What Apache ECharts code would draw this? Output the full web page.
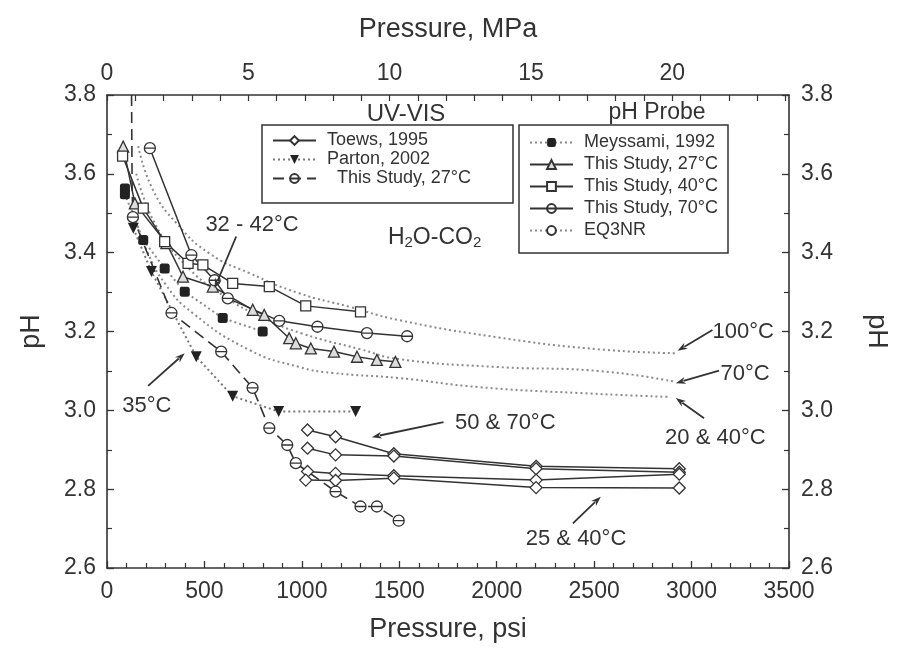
<!DOCTYPE html>
<html><head><meta charset="utf-8">
<script src="https://cdn.jsdelivr.net/npm/echarts@6/dist/echarts.min.js"></script>
<style>html,body{margin:0;padding:0;background:#fff}#c{width:898px;height:666px}</style>
</head><body><div id="c"></div>
<script>
// ---------- data (psi, pH) ----------
const toews1 = [[1029,2.950],[1173,2.933],[1472,2.890],[2202,2.858],[2937,2.852]];
const toews2 = [[1029,2.904],[1173,2.887],[1472,2.884],[2202,2.852],[2937,2.843]];
const toews3 = [[1029,2.845],[1173,2.840],[1472,2.834],[2202,2.823],[2937,2.838]];
const toews4 = [[1020,2.823],[1173,2.822],[1472,2.828],[2202,2.804],[2937,2.803]];
const parton = [[135,3.462],[228,3.352],[458,3.136],[645,3.036],[881,2.997],[1276,2.997]];
const uv27 = [[126,3.80],[129,3.56],[133,3.49],[331,3.247],[586,3.149],[747,3.057],[833,2.955],[925,2.912],[969,2.866],[1173,2.794],[1301,2.756],[1385,2.756],[1497,2.720]];
const meyssami = [[92,3.563],[92,3.548],[186,3.432],[296,3.360],[399,3.301],[594,3.234],[799,3.200]];
const probe27 = [[83,3.669],[143,3.525],[305,3.424],[390,3.339],[543,3.314],[748,3.255],[807,3.242],[935,3.183],[969,3.170],[1046,3.157],[1165,3.149],[1283,3.136],[1385,3.128],[1480,3.123]];
const probe40 = [[80,3.645],[186,3.513],[296,3.428],[416,3.373],[492,3.369],[645,3.322],[833,3.314],[1020,3.265],[1301,3.250]];
const probe70 = [[220,3.665],[433,3.394],[552,3.330],[620,3.284],[884,3.227],[1080,3.212],[1334,3.196],[1540,3.188]];
const eq100 = [[160,3.67],[235,3.56],[356,3.475],[526,3.398],[731,3.348],[986,3.297],[1242,3.263],[1497,3.229],[2008,3.185],[2519,3.155],[2919,3.145]];
const eq70 = [[150,3.60],[250,3.47],[400,3.37],[600,3.29],[800,3.235],[1000,3.195],[1300,3.155],[1497,3.130],[2000,3.110],[2519,3.100],[2919,3.072]];
const eq20 = [[120,3.52],[200,3.41],[300,3.32],[439,3.247],[731,3.153],[986,3.110],[1155,3.095],[1497,3.082],[1906,3.059],[2417,3.044],[2892,3.034]];

// axes
const psiRange = [0, 3500];
const phRange = [2.6, 3.8];
const psiPerMPa = 145.0377;

// annotations: [text, labelX, labelY, arrowFrom, arrowTo] in data coords
const notes = [
  ['32 - 42°C', 744, 3.470, [663,3.441], [552,3.310]],
  ['35°C', 204, 3.011, [211,3.062], [399,3.145]],
  ['50 & 70°C', 2044, 2.968, [1727,2.970], [1359,2.932]],
  ['25 & 40°C', 2407, 2.674, [2391,2.713], [2534,2.781]],
  ['20 & 40°C', 3122, 2.930, [3064,2.980], [2919,3.031]],
  ['70°C', 3275, 3.092, [3141,3.101], [2919,3.069]],
  ['100°C', 3265, 3.199, [3107,3.204], [2928,3.151]]
];
const subNote = {x:1681, y:3.437};

// ---------- build ----------
const FONT = "'Liberation Sans', Arial, Helvetica, sans-serif";
const INK = '#333';
const THETA = 'path://M0,10A10,10,0,1,1,20,10A10,10,0,1,1,0,10ZM0,10L20,10';
const open = {color:'#fff', borderColor:INK, borderWidth:1.3};

function line(name, data, o) {
  return Object.assign({
    type:'line', name, data, xAxisIndex:0, yAxisIndex:0,
    lineStyle:{color:INK, width:1.5, type:'solid'},
    itemStyle:open, symbolSize:10, z:3, animation:false, silent:true
  }, o);
}
const eqStyle = {color:'#8a8a8a', width:2, type:[2,3]};
const series = [
  line('EQ3NR', eq100, {symbol:'none', smooth:true, lineStyle:eqStyle, z:1}),
  line('EQ3NR', eq70, {symbol:'none', smooth:true, lineStyle:eqStyle, z:1}),
  line('EQ3NR', eq20, {symbol:'none', smooth:true, lineStyle:eqStyle, z:1}),
  line('Toews, 1995', toews1, {symbol:'diamond', symbolSize:12}),
  line('Toews, 1995', toews2, {symbol:'diamond', symbolSize:12}),
  line('Toews, 1995', toews3, {symbol:'diamond', symbolSize:12}),
  line('Toews, 1995', toews4, {symbol:'diamond', symbolSize:12}),
  line('Parton, 2002', parton, {symbol:'triangle', symbolRotate:180, symbolSize:11,
      itemStyle:{color:'#222'}, lineStyle:{color:'#777', width:2, type:[2,3]}}),
  line('This Study, 27°C ', uv27.map((p,i)=> i<2 ? {value:p, symbol:'none'} : p),
      {symbol:THETA, symbolSize:11, lineStyle:{color:INK, width:1.6, type:[11,6]}}),
  line('Meyssami, 1992', meyssami, {symbol:'roundRect', symbolSize:10,
      itemStyle:{color:'#222'}, lineStyle:{color:'#888', width:2, type:[2,3]}}),
  line('This Study, 27°C', probe27, {symbol:'triangle', symbolSize:11, itemStyle:{color:'#ddd', borderColor:INK, borderWidth:1.3}}),
  line('This Study, 40°C', probe40, {symbol:'rect', symbolSize:10}),
  line('This Study, 70°C', probe70, {symbol:THETA, symbolSize:11})
];

const axisText = {fontFamily:FONT, fontSize:23, color:INK};
const axLine = {show:true, onZero:false, lineStyle:{color:INK, width:1.6}};
const option = {
  backgroundColor:'#fff',
  animation:false,
  textStyle:{fontFamily:FONT},
  grid:{left:107, right:106, top:95, bottom:98, containLabel:false},
  xAxis:[
    {type:'value', position:'bottom', min:psiRange[0], max:psiRange[1], interval:500,
     axisLine:axLine, splitLine:{show:false},
     axisTick:{inside:true, length:7, lineStyle:{color:INK, width:1.3}},
     minorTick:{show:true, splitNumber:5, length:5, lineStyle:{color:INK, width:1.2}},
     axisLabel:Object.assign({margin:12, formatter:v=>String(Math.round(v))}, axisText),
     name:'Pressure, psi', nameLocation:'middle', nameGap:48,
     nameTextStyle:{fontFamily:FONT, fontSize:27, color:INK}},
    {type:'value', position:'top', min:psiRange[0]/psiPerMPa, max:psiRange[1]/psiPerMPa, interval:1,
     axisLine:axLine, splitLine:{show:false},
     axisTick:{inside:true, length:6, lineStyle:{color:INK, width:1.2}},
     axisLabel:Object.assign({margin:10, showMaxLabel:false,
        formatter:v=> (Math.abs(v-Math.round(v))<1e-6 && Math.round(v)%5===0) ? String(Math.round(v)) : ''}, axisText),
     name:'Pressure, MPa', nameLocation:'middle', nameGap:52,
     nameTextStyle:{fontFamily:FONT, fontSize:27, color:INK}}
  ],
  yAxis:[
    {type:'value', position:'left', min:phRange[0], max:phRange[1], interval:0.2,
     axisLine:axLine, splitLine:{show:false},
     axisTick:{inside:true, length:7, lineStyle:{color:INK, width:1.3}},
     minorTick:{show:true, splitNumber:2, length:5, lineStyle:{color:INK, width:1.2}},
     axisLabel:Object.assign({margin:11, formatter:v=>v.toFixed(1)}, axisText),
     name:'pH', nameLocation:'middle', nameRotate:90, nameGap:62,
     nameTextStyle:{fontFamily:FONT, fontSize:27, color:INK}},
    {type:'value', position:'right', min:phRange[0], max:phRange[1], interval:0.2,
     axisLine:axLine, splitLine:{show:false},
     axisTick:{inside:true, length:7, lineStyle:{color:INK, width:1.3}},
     minorTick:{show:true, splitNumber:2, length:5, lineStyle:{color:INK, width:1.2}},
     axisLabel:Object.assign({margin:12, formatter:v=>v.toFixed(1)}, axisText),
     name:'pH', nameLocation:'middle', nameRotate:-90, nameGap:74,
     nameTextStyle:{fontFamily:FONT, fontSize:27, color:INK}}
  ],
  legend:[
    {data:['Toews, 1995','Parton, 2002','This Study, 27°C '], orient:'vertical',
     left:262, top:125, padding:[6,10,15,10], itemGap:0, itemWidth:43, itemHeight:11,
     borderWidth:0, selectedMode:false,
     formatter:n=> n.indexOf('This')===0 ? '  '+n : n,
     textStyle:{fontFamily:FONT, fontSize:18, color:INK, lineHeight:19, padding:[0,0,0,6]}},
    {data:['Meyssami, 1992','This Study, 27°C','This Study, 40°C','This Study, 70°C','EQ3NR'], orient:'vertical',
     left:519, top:125, padding:[8,10,13,10], itemGap:3, itemWidth:43, itemHeight:11,
     borderWidth:0, selectedMode:false,
     textStyle:{fontFamily:FONT, fontSize:18, color:INK, lineHeight:19, padding:[0,0,0,6]}}
  ],
  series
};

const chart = echarts.init(document.getElementById('c'), null, {renderer:'canvas'});
chart.setOption(option);

// annotations positioned in data coordinates
const P = v => chart.convertToPixel({xAxisIndex:0, yAxisIndex:0}, v);
const g = [];
// legend frames
g.push({type:'rect', silent:true, z:4, shape:{x:262, y:125, width:251, height:78}, style:{fill:null, stroke:INK, lineWidth:1.5}});
g.push({type:'rect', silent:true, z:4, shape:{x:519, y:125, width:209, height:128}, style:{fill:null, stroke:INK, lineWidth:1.5}});
function txt(t, p, size) {
  g.push({type:'text', x:p[0], y:p[1], silent:true, z:10,
    style:{text:t, fontFamily:FONT, fontSize:size, fill:INK, align:'center', verticalAlign:'middle'}});
}
function arrow(a, b) {
  const p1 = P(a), p2 = P(b);
  const dx = p2[0]-p1[0], dy = p2[1]-p1[1], L = Math.hypot(dx,dy), ux = dx/L, uy = dy/L;
  const hl = 10, hw = 3.5;
  const bx = p2[0]-ux*hl, by = p2[1]-uy*hl;
  g.push({type:'line', silent:true, z:10, shape:{x1:p1[0], y1:p1[1], x2:bx+ux*2, y2:by+uy*2}, style:{stroke:INK, lineWidth:1.8}});
  g.push({type:'polygon', silent:true, z:10, shape:{points:[[p2[0],p2[1]],[bx-uy*hw,by+ux*hw],[bx+ux*3,by+uy*3],[bx+uy*hw,by-ux*hw]]}, style:{fill:INK}});
}
notes.forEach(n => { txt(n[0], P([n[1], n[2]]), 22); arrow(n[3], n[4]); });
const hp = P([subNote.x, subNote.y]);
g.push({type:'text', x:hp[0], y:hp[1], silent:true, z:10,
  style:{text:'H{s|2}O-CO{s|2}', fontFamily:FONT, fontSize:23, fill:INK, align:'center', verticalAlign:'middle',
    rich:{s:{fontFamily:FONT, fontSize:15, fill:INK, padding:[9,0,0,0]}}}});
// legend headings
g.push({type:'text', x:406, y:114, silent:true, style:{text:'UV-VIS', fontFamily:FONT, fontSize:24, fill:INK, align:'center', verticalAlign:'middle'}});
g.push({type:'text', x:657, y:113, silent:true, style:{text:'pH Probe', fontFamily:FONT, fontSize:23, fill:INK, align:'center', verticalAlign:'middle'}});
chart.setOption({graphic:g});
</script>
</body></html>
